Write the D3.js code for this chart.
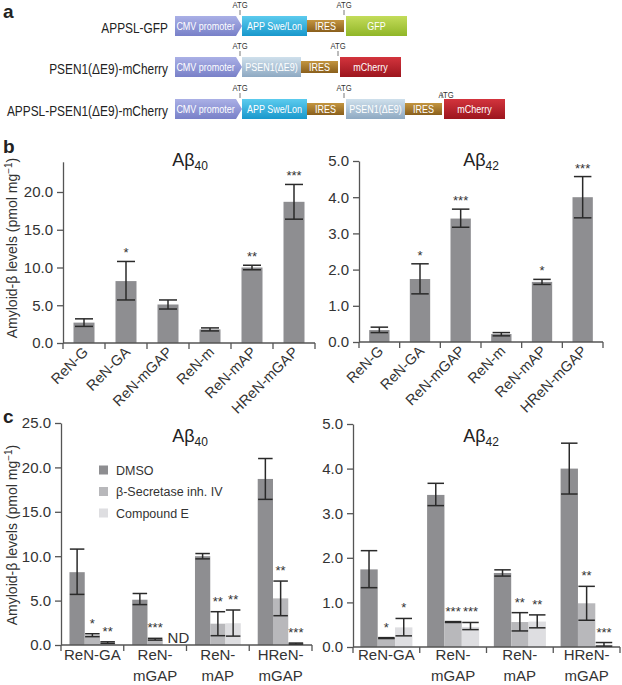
<!DOCTYPE html>
<html>
<head>
<meta charset="utf-8">
<script src="https://cdn.jsdelivr.net/npm/d3@7"></script>
<style>
  body { margin: 0; background: #fff; }
  svg { display: block; font-family: "Liberation Sans", Arial, Helvetica, sans-serif; }
</style>
</head>
<body>
<div id="fig"></div>
<script>
// ---- panel a: constructs ----
const constructNames = ['APPSL-GFP', 'PSEN1(ΔE9)-mCherry', 'APPSL-PSEN1(ΔE9)-mCherry'];
const constructParts = [
  ['CMV promoter', 'APP Swe/Lon', 'IRES', 'GFP'],
  ['CMV promoter', 'PSEN1(ΔE9)', 'IRES', 'mCherry'],
  ['CMV promoter', 'APP Swe/Lon', 'IRES', 'PSEN1(ΔE9)', 'IRES', 'mCherry'],
];
// ATG start codons: index of the part they sit in front of
const constructATG = [[1, 3], [1, 3], [1, 3, 5]];

// ---- panel b ----
const bCells = ['ReN-G', 'ReN-GA', 'ReN-mGAP', 'ReN-m', 'ReN-mAP', 'HReN-mGAP'];
const bAb40 = [2.7, 8.2, 5.1, 1.8, 10.0, 18.7];
const bAb40Lo = [2.2, 5.7, 4.5, 1.6, 9.7, 16.4];
const bAb40Hi = [3.2, 10.8, 5.7, 2.0, 10.3, 21.0];
const bAb40Sig = ['', '*', '', '', '**', '***'];
const bAb42 = [0.33, 1.74, 3.41, 0.22, 1.66, 4.0];
const bAb42Lo = [0.26, 1.33, 3.17, 0.17, 1.59, 3.43];
const bAb42Hi = [0.41, 2.16, 3.67, 0.26, 1.73, 4.57];
const bAb42Sig = ['', '*', '***', '', '*', '***'];

// ---- panel c ----
const cCells = ['ReN-GA', 'ReN-mGAP', 'ReN-mAP', 'HReN-mGAP'];
const cCellLines = [['ReN-GA'], ['ReN-', 'mGAP'], ['ReN-', 'mAP'], ['HReN-', 'mGAP']];
const cTreat = ['DMSO', 'β-Secretase inh. IV', 'Compound E'];
const cAb40 = [[8.2, 1.1, 0.27], [5.1, 0.65, null], [10.0, 2.4, 2.45], [18.7, 5.25, 0.15]];
const cAb40Lo = [[5.7, 0.94, 0.18], [4.55, 0.55, null], [9.7, 1.05, 1.0], [16.4, 3.3, 0.1]];
const cAb40Hi = [[10.8, 1.27, 0.36], [5.8, 0.75, null], [10.3, 3.75, 3.94], [21.0, 7.2, 0.22]];
const cAb40Sig = [['', '*', '**'], ['', '***', ''], ['', '**', '**'], ['', '**', '***']];
const cAb42 = [[1.74, 0.2, 0.44], [3.41, 0.56, 0.45], [1.66, 0.56, 0.57], [4.0, 0.98, 0.05]];
const cAb42Lo = [[1.33, 0.19, 0.25], [3.17, 0.55, 0.39], [1.59, 0.36, 0.43], [3.43, 0.6, 0.02]];
const cAb42Hi = [[2.16, 0.21, 0.64], [3.67, 0.57, 0.55], [1.73, 0.77, 0.72], [4.57, 1.36, 0.1]];
const cAb42Sig = [['', '*', '*'], ['', '***', '***'], ['', '**', '**'], ['', '**', '***']];

const treatColor = d3.scaleOrdinal().domain(cTreat).range(['#8e8e91', '#b8b8bb', '#dedee1']);
const ink = '#333';

const svg = d3.select('#fig').append('svg').attr('width', 622).attr('height', 685);
const defs = svg.append('defs');

// panel letters
[['a', 18], ['b', 153], ['c', 423]].forEach(([t, y]) => {
  svg.append('text').attr('x', 3).attr('y', y).attr('font-weight', 'bold')
    .attr('font-size', 19).attr('fill', '#222').text(t);
});

// condensed text: the original uses a narrow face, squeeze a regular one
function narrowText(g, x, y, str, size, sx, anchor, fill) {
  return g.append('text')
    .attr('transform', `translate(${x},${y}) scale(${sx},1)`)
    .attr('text-anchor', anchor).attr('font-size', size).attr('fill', fill).text(str);
}

// ---------- panel a ----------
const partStyle = {
  'CMV promoter': { w: 67, arrow: 6, c: ['#aab0e6', '#7880c8'] },
  'APP Swe/Lon': { w: 65, c: ['#5ccbee', '#1898cc'] },
  'IRES': { w: 37, gap: 2, h: 12, c: ['#c39540', '#8a5f1c'] },
  'PSEN1(ΔE9)': { w: 59, c: ['#cfe0ec', '#8ea9c2'] },
  'GFP': { w: 61, c: ['#c3dc5a', '#90b628'] },
  'mCherry': { w: 61, c: ['#d3343d', '#9c161e'] },
};
Object.keys(partStyle).forEach((k, i) => {
  partStyle[k].id = 'grad' + i;
  const lg = defs.append('linearGradient').attr('id', 'grad' + i)
    .attr('x1', 0).attr('y1', 0).attr('x2', 0).attr('y2', 1);
  lg.append('stop').attr('offset', '0%').attr('stop-color', partStyle[k].c[0]);
  lg.append('stop').attr('offset', '100%').attr('stop-color', partStyle[k].c[1]);
});

const rowTop = [16, 57, 99];
const boxH = 20;
const partX0 = 175;

constructNames.forEach((name, r) => {
  const top = rowTop[r];
  const g = svg.append('g');
  narrowText(g, 168, top + boxH / 2 + 7, name, 14.5, 0.82, 'end', '#222');

  let x = partX0;
  const starts = [];
  constructParts[r].forEach((p) => {
    const s = partStyle[p];
    starts.push(x);
    const h = s.h || boxH;
    const y = top + (boxH - h) / 2;
    if (s.arrow) {
      g.append('path')
        .attr('d', `M${x},${y}H${x + s.w - s.arrow}L${x + s.w},${y + h / 2}L${x + s.w - s.arrow},${y + h}H${x}Z`)
        .attr('fill', `url(#${s.id})`);
    } else {
      g.append('rect').attr('x', x).attr('y', y).attr('width', s.w).attr('height', h)
        .attr('fill', `url(#${s.id})`);
    }
    narrowText(g, x + (s.w - (s.arrow || 0)) / 2, top + boxH / 2 + 4, p, 11.5, 0.78, 'middle', '#fff');
    x += s.w + (s.gap || 0);
  });

  constructATG[r].forEach((idx, k) => {
    const ax = starts[idx] - 2;
    const low = k === 2 ? 7 : 0;
    narrowText(g, ax + (low ? 4 : 0), top - 8 + low, 'ATG', 9, 0.85, 'middle', '#333');
    g.append('line').attr('x1', ax).attr('x2', ax).attr('y1', top - 6).attr('y2', top - 1)
      .attr('stroke', '#555').attr('stroke-width', 0.8);
  });
});

// ---------- bar panels ----------
function addTitle(g, x, y, sub) {
  const t = g.append('text').attr('x', x).attr('y', y).attr('text-anchor', 'middle')
    .attr('font-size', 18).attr('fill', '#222');
  t.append('tspan').text('Aβ');
  t.append('tspan').attr('dy', 4).attr('font-size', 12).text(sub);
}

function yLabel(x, y) {
  const t = svg.append('text').attr('transform', `translate(${x},${y}) rotate(-90)`)
    .attr('text-anchor', 'middle').attr('font-size', 14).attr('fill', ink);
  t.append('tspan').text('Amyloid-β levels (pmol mg');
  t.append('tspan').attr('dy', -5).attr('font-size', 10).text('−1');
  t.append('tspan').attr('dy', 5).text(')');
}

function drawAxes(g, x, y, ticks) {
  const [xa, xb] = x.range();
  const yAx = g.append('g').attr('transform', `translate(${xa},0)`)
    .call(d3.axisLeft(y).tickValues(ticks).tickFormat(d3.format('.1f'))
      .tickSize(6).tickPadding(4).tickSizeOuter(0));
  yAx.selectAll('path, line').attr('stroke', '#555').attr('stroke-width', 1.3);
  yAx.selectAll('text').attr('font-size', 15).attr('fill', ink)
    .attr('font-family', '"Liberation Sans", Arial, sans-serif');

  const edges = x.domain().map((d) => x(d)).concat(xb);
  g.append('line').attr('x1', xa).attr('x2', xb).attr('y1', y(0)).attr('y2', y(0))
    .attr('stroke', '#555').attr('stroke-width', 1.3);
  g.selectAll('.xtick').data(edges).join('line').attr('class', 'xtick')
    .attr('x1', (d) => d).attr('x2', (d) => d).attr('y1', y(0)).attr('y2', y(0) + 6)
    .attr('stroke', '#555').attr('stroke-width', 1.3);
}

function errorBar(g, cx, capW, y, lo, hi) {
  const add = (x1, x2, y1, y2) => g.append('line')
    .attr('x1', x1).attr('x2', x2).attr('y1', y1).attr('y2', y2)
    .attr('stroke', '#2a2a2a').attr('stroke-width', 1.5);
  add(cx, cx, y(lo), y(hi));
  add(cx - capW / 2, cx + capW / 2, y(hi), y(hi));
  add(cx - capW / 2, cx + capW / 2, y(lo), y(lo));
}

function simpleBars(cfg, mean, lo, hi, sig) {
  const g = svg.append('g');
  const x = d3.scaleBand().domain(bCells).range(cfg.xRange);
  const y = d3.scaleLinear().domain([0, cfg.max]).range(cfg.yRange);
  const bw = x.bandwidth() * 0.5;
  const rows = bCells.map((c, i) => ({ c, v: mean[i], lo: lo[i], hi: hi[i], s: sig[i] }));

  g.selectAll('.bar').data(rows).join('rect').attr('class', 'bar')
    .attr('x', (d) => x(d.c) + (x.bandwidth() - bw) / 2)
    .attr('width', bw)
    .attr('y', (d) => y(d.v))
    .attr('height', (d) => y(0) - y(d.v))
    .attr('fill', treatColor('DMSO'));

  drawAxes(g, x, y, cfg.ticks);

  rows.forEach((d) => {
    const cx = x(d.c) + x.bandwidth() / 2;
    errorBar(g, cx, bw * 0.86, y, d.lo, d.hi);
    if (d.s) {
      g.append('text').attr('x', cx).attr('y', y(d.hi) - 4).attr('text-anchor', 'middle')
        .attr('font-size', 13).attr('fill', ink).text(d.s);
    }
    g.append('text')
      .attr('transform', `translate(${cx + 5},${y(0) + 10}) rotate(-45)`)
      .attr('text-anchor', 'end').attr('font-size', 14.5).attr('fill', ink).text(d.c);
  });

  addTitle(g, cfg.titleX, cfg.titleY, cfg.sub);
}

function groupedBars(cfg, mean, lo, hi, sig) {
  const g = svg.append('g');
  const x0 = d3.scaleBand().domain(cCells).range(cfg.xRange);
  const inset = x0.bandwidth() * (1 - cfg.groupFrac) / 2;
  const x1 = d3.scaleBand().domain(cTreat).range([inset, x0.bandwidth() - inset]);
  const y = d3.scaleLinear().domain([0, cfg.max]).range(cfg.yRange);

  const rows = [];
  cCells.forEach((c, i) => cTreat.forEach((t, j) => {
    rows.push({ c, t, v: mean[i][j], lo: lo[i][j], hi: hi[i][j], s: sig[i][j] });
  }));

  g.selectAll('.bar').data(rows.filter((d) => d.v !== null)).join('rect').attr('class', 'bar')
    .attr('x', (d) => x0(d.c) + x1(d.t))
    .attr('width', x1.bandwidth())
    .attr('y', (d) => y(d.v))
    .attr('height', (d) => y(0) - y(d.v))
    .attr('fill', (d) => treatColor(d.t));

  drawAxes(g, x0, y, cfg.ticks);

  rows.forEach((d) => {
    const cx = x0(d.c) + x1(d.t) + x1.bandwidth() / 2;
    if (d.v === null) {
      g.append('text').attr('x', cx + 8).attr('y', y(0) - 2).attr('text-anchor', 'middle')
        .attr('font-size', 15).attr('fill', ink).text('ND');
      return;
    }
    errorBar(g, cx, x1.bandwidth() * 0.95, y, d.lo, d.hi);
    if (d.s) {
      g.append('text').attr('x', cx).attr('y', y(d.hi) - 6).attr('text-anchor', 'middle')
        .attr('font-size', 13).attr('fill', ink).text(d.s);
    }
  });

  cCells.forEach((c, i) => {
    const t = g.append('text').attr('x', x0(c) + x0.bandwidth() / 2).attr('y', 660)
      .attr('text-anchor', 'middle').attr('font-size', 15).attr('fill', ink);
    cCellLines[i].forEach((ln, k) => {
      t.append('tspan').attr('x', x0(c) + x0.bandwidth() / 2).attr('dy', k ? 21 : 0).text(ln);
    });
  });

  addTitle(g, cfg.titleX, cfg.titleY, cfg.sub);

  if (cfg.legend) {
    const lg = g.append('g').attr('transform', `translate(${cfg.legend[0]},${cfg.legend[1]})`);
    cTreat.forEach((t, j) => {
      const row = lg.append('g').attr('transform', `translate(0,${j * 21.5})`);
      row.append('rect').attr('x', 0).attr('y', -4.5).attr('width', 9).attr('height', 9)
        .attr('fill', treatColor(t));
      row.append('text').attr('x', 17).attr('y', 4.5).attr('font-size', 12.5)
        .attr('fill', ink).text(t);
    });
  }
}

simpleBars({ xRange: [63, 315], yRange: [343, 161.8], max: 24, ticks: [0, 5, 10, 15, 20],
  titleX: 190, titleY: 166, sub: '40' }, bAb40, bAb40Lo, bAb40Hi, bAb40Sig);
simpleBars({ xRange: [359, 603], yRange: [342, 161], max: 5, ticks: [0, 1, 2, 3, 4, 5],
  titleX: 481, titleY: 166, sub: '42' }, bAb42, bAb42Lo, bAb42Hi, bAb42Sig);

groupedBars({ xRange: [61, 312], yRange: [645, 423], max: 25, ticks: [0, 5, 10, 15, 20, 25],
  groupFrac: 0.73, titleX: 190, titleY: 442, sub: '40', legend: [99, 470] },
  cAb40, cAb40Lo, cAb40Hi, cAb40Sig);
groupedBars({ xRange: [353, 620], yRange: [647, 424], max: 5, ticks: [0, 1, 2, 3, 4, 5],
  groupFrac: 0.78, titleX: 481, titleY: 442, sub: '42' },
  cAb42, cAb42Lo, cAb42Hi, cAb42Sig);

yLabel(17, 248);
yLabel(17, 535);
</script>
</body>
</html>
